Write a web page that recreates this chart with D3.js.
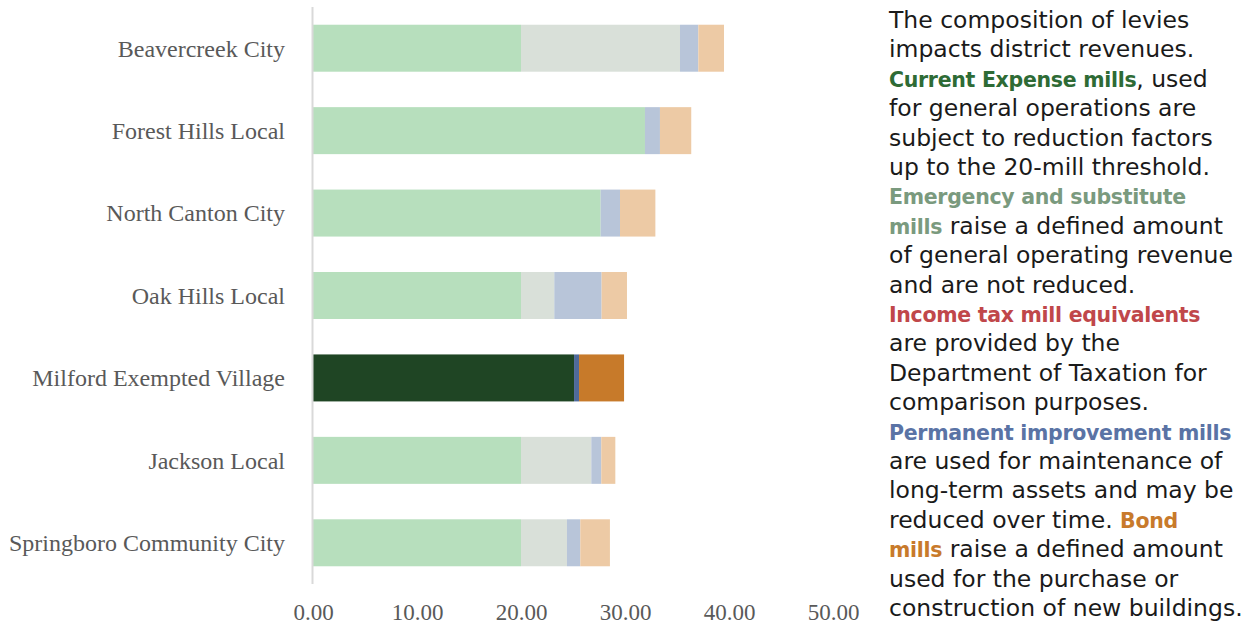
<!DOCTYPE html>
<html>
<head>
<meta charset="utf-8">
<script src="https://cdn.jsdelivr.net/npm/d3@7"></script>
<style>
  body { margin: 0; background: #fff; }
  svg { display: block; }
</style>
</head>
<body>
<div class="js-vis"></div>
<script>
// Districts, top to bottom
const districts = ["Beavercreek City", "Forest Hills Local", "North Canton City", "Oak Hills Local",
  "Milford Exempted Village", "Jackson Local", "Springboro Community City"]

// Mills by levy type
const currentExpense = [20.00, 31.92, 27.66, 20.00, 25.10, 20.00, 20.00]
const emergency      = [15.29, 0.00, 0.00, 3.20, 0.00, 6.76, 4.42]
const permanent      = [1.76, 1.44, 1.86, 4.55, 0.48, 0.96, 1.28]
const bond           = [2.47, 3.01, 3.40, 2.44, 4.33, 1.35, 2.85]

const xTicks = [0, 10, 20, 30, 40, 50]
const highlight = "Milford Exempted Village"

const keys = ["current", "emergency", "permanent", "bond"]
const paleColors = { current: "#b7dfbd", emergency: "#d9e0d9", permanent: "#b8c5d9", bond: "#edcaa5" }
const darkColors = { current: "#1f4524", emergency: "#7a9a7e", permanent: "#4f6a9a", bond: "#c77a2a" }

const rows = districts.map((d, i) => ({
  district: d,
  current: currentExpense[i],
  emergency: emergency[i],
  permanent: permanent[i],
  bond: bond[i]
}))

// Side note, line by line; bold segments carry a colour
const note = [
  [["The composition of levies"]],
  [["impacts district revenues."]],
  [["Current Expense mills", "#2e6b35"], [", used"]],
  [["for general operations are"]],
  [["subject to reduction factors"]],
  [["up to the 20-mill threshold."]],
  [["Emergency and substitute", "#7a9a7e"]],
  [["mills", "#7a9a7e"], [" raise a defined amount"]],
  [["of general operating revenue"]],
  [["and are not reduced."]],
  [["Income tax mill equivalents", "#c0474a"]],
  [["are provided by the"]],
  [["Department of Taxation for"]],
  [["comparison purposes."]],
  [["Permanent improvement mills", "#5a73a5"]],
  [["are used for maintenance of"]],
  [["long-term assets and may be"]],
  [["reduced over time. "], ["Bond", "#c87a2b"]],
  [["mills", "#c87a2b"], [" raise a defined amount"]],
  [["used for the purchase or"]],
  [["construction of new buildings."]]
]

const W = 1245, H = 627
const margin = { top: 7, left: 313, right: 412, bottom: 43 }
const width = W - margin.left - margin.right,
    height = H - margin.top - margin.bottom

const svg = d3.select(".js-vis").append("svg")
  .attr("width", W)
  .attr("height", H)

const x = d3.scaleLinear()
  .domain([0, 50])
  .range([0, width])

const y = d3.scaleBand()
  .domain(districts)
  .range([0, height])
  .paddingInner(0.43)
  .paddingOuter(0.215)

const vis = svg.append("g")
  .attr("transform", "translate(" + margin.left + "," + margin.top + ")")

const series = d3.stack().keys(keys)(rows)

vis.append("g").selectAll("g")
  .data(series)
.enter().append("g")
  .selectAll("rect")
  .data(s => s.map(d => Object.assign(d, { key: s.key })))
.enter().append("rect")
  .attr("x", d => x(d[0]))
  .attr("y", d => y(d.data.district))
  .attr("width", d => x(d[1]) - x(d[0]))
  .attr("height", y.bandwidth())
  .attr("fill", d => d.data.district === highlight ? darkColors[d.key] : paleColors[d.key])

// Vertical axis line
vis.append("line")
  .attr("x1", -0.5).attr("x2", -0.5)
  .attr("y1", 0).attr("y2", height)
  .attr("stroke", "#d9d9d9")
  .attr("stroke-width", 2)

// Category labels
vis.append("g")
  .attr("font-family", "'Liberation Serif', 'Times New Roman', serif")
  .attr("font-size", 24)
  .attr("fill", "#595959")
  .attr("text-anchor", "end")
.selectAll("text")
  .data(districts)
.enter().append("text")
  .attr("x", -28)
  .attr("y", d => y(d) + y.bandwidth() / 2)
  .attr("dy", "0.35em")
  .text(d => d)

// Value axis
const xax = d3.axisBottom(x)
  .tickValues(xTicks)
  .tickFormat(d3.format(".2f"))
  .tickSize(0)
  .tickPadding(0)

vis.append("g")
  .attr("transform", "translate(0," + (620 - margin.top) + ")")
  .call(xax)
  .call(g => g.select(".domain").remove())
  .call(g => g.selectAll("text")
    .attr("dy", 0)
    .attr("font-family", "'Liberation Serif', 'Times New Roman', serif")
    .attr("font-size", 23)
    .attr("fill", "#595959"))

// Side note
const txt = svg.append("g")
  .attr("font-family", "'DejaVu Sans', sans-serif")
  .attr("font-size", 23.5)
  .attr("fill", "#1a1a1a")

note.forEach((line, i) => {
  const t = txt.append("text")
    .attr("x", 889)
    .attr("y", 28 + i * 29.4)
  line.forEach(seg => {
    t.append("tspan")
      .attr("fill", seg[1] || null)
      .attr("font-weight", seg[1] ? "bold" : null)
      .attr("font-size", seg[1] ? 20.5 : null)
      .attr("letter-spacing", seg[1] ? -0.3 : null)
      .text(seg[0])
  })
})
</script>
</body>
</html>
